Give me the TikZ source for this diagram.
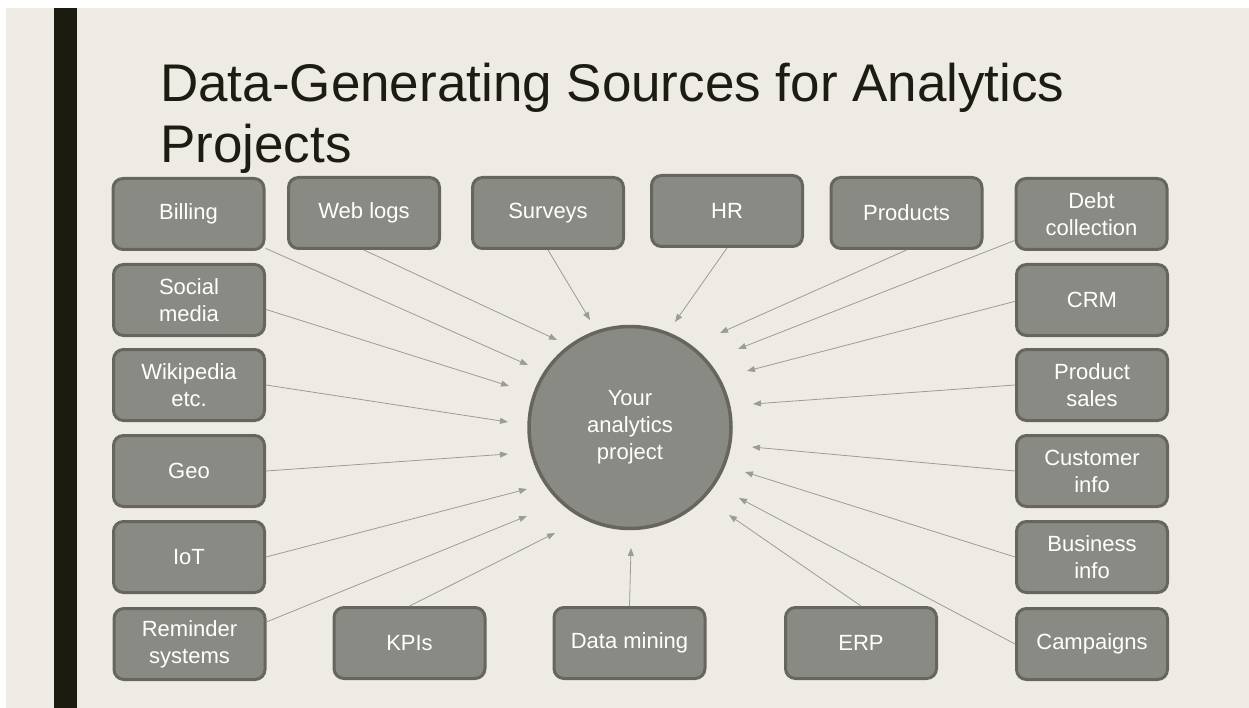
\documentclass[tikz,border=0pt]{standalone}
\usepackage{fontspec}
\setmainfont{Liberation Sans}
\usetikzlibrary{arrows.meta}
\definecolor{bg}{HTML}{EEEBE4}
\definecolor{bar}{HTML}{1B1B0F}
\definecolor{titlec}{HTML}{1C1C12}
\definecolor{boxfill}{HTML}{8A8A84}
\definecolor{boxline}{HTML}{66665F}
\definecolor{arrowc}{HTML}{9C9C96}
\begin{document}
\begin{tikzpicture}[x=1pt,y=-1pt,
  src/.style={draw=boxline, fill=boxfill, line width=3pt, rounded corners=10pt,
    minimum width=151pt, minimum height=71pt, text=white, align=center,
    inner sep=2pt, font=\fontsize{22}{27}\selectfont},
  hub/.style={circle, draw=boxline, fill=boxfill, line width=3.5pt,
    minimum size=202pt, text=white, align=center, font=\fontsize{22}{27}\selectfont},
  arr/.style={draw=arrowc, line width=0.8pt, -{Triangle[length=8pt,width=6pt]}},
  ttl/.style={anchor=base west, inner sep=0pt, text=titlec, font=\fontsize{53}{61}\selectfont}]
\useasboundingbox (0,0) rectangle (1249,708);
\fill[white] (0,0) rectangle (1249,708);
\fill[bg] (6,8) rectangle (1249,708);
\fill[bar] (54,8) rectangle (77,708);
\node[ttl] (title1) at (160,102) {Data-Generating Sources for Analytics};
\node[ttl] (title2) at (160,163) {Projects};
% hub
\node[hub] (hub) at (630,427.5) {Your\\analytics\\project};
% top row
\node[src] (billing) at (188.5,214) {Billing};
\node[src] (weblogs) at (364,213) {Web logs};
\node[src] (surveys) at (548,213) {Surveys};
\node[src] (hr) at (727,211) {HR};
\node[src] (products) at (906.5,213) {Products};
\node[src] (debt) at (1091.5,214) {Debt\\collection};
% left column
\node[src] (social) at (189,300) {Social\\media};
\node[src] (wiki) at (189,385) {Wikipedia\\etc.};
\node[src] (geo) at (189,471) {Geo};
\node[src] (iot) at (189,557) {IoT};
\node[src] (reminder) at (189.5,644) {Reminder\\systems};
% right column
\node[src] (crm) at (1092,300) {CRM};
\node[src] (psales) at (1092,385) {Product\\sales};
\node[src] (cinfo) at (1092,471) {Customer\\info};
\node[src] (binfo) at (1092,557) {Business\\info};
\node[src] (campaigns) at (1092,644) {Campaigns};
% bottom row
\node[src] (kpis) at (409.5,643) {KPIs};
\node[src] (dmining) at (629.5,643) {Data mining};
\node[src] (erp) at (861,643) {ERP};
% arrow tips
\coordinate (t1) at (528,365);
\coordinate (t2) at (557,340);
\coordinate (t3) at (590,320);
\coordinate (t4) at (675,322);
\coordinate (t5) at (720,333);
\coordinate (t6) at (738,349);
\coordinate (t7) at (747,371);
\coordinate (t8) at (753,404);
\coordinate (t9) at (752,447);
\coordinate (t10) at (745,472);
\coordinate (t11) at (739,498);
\coordinate (t12) at (729,515);
\coordinate (t13) at (631,548);
\coordinate (t14) at (555,533);
\coordinate (t15) at (527,516);
\coordinate (t16) at (527,489);
\coordinate (t17) at (508,454);
\coordinate (t18) at (508,422);
\coordinate (t19) at (509,386);
% arrows
\draw[arr] (billing.-24) -- (t1);
\draw[arr] (weblogs.south) -- (t2);
\draw[arr] (surveys.south) -- (t3);
\draw[arr] (hr.south) -- (t4);
\draw[arr] (products.south) -- (t5);
\draw[arr] (debt.199) -- (t6);
\draw[arr] (crm.181) -- (t7);
\draw[arr] (psales.west) -- (t8);
\draw[arr] (cinfo.west) -- (t9);
\draw[arr] (binfo.west) -- (t10);
\draw[arr] (campaigns.west) -- (t11);
\draw[arr] (erp.north) -- (t12);
\draw[arr] (dmining.north) -- (t13);
\draw[arr] (kpis.north) -- (t14);
\draw[arr] (reminder.16) -- (t15);
\draw[arr] (iot.east) -- (t16);
\draw[arr] (geo.east) -- (t17);
\draw[arr] (wiki.east) -- (t18);
\draw[arr] (social.-7) -- (t19);
\end{tikzpicture}
\end{document}
